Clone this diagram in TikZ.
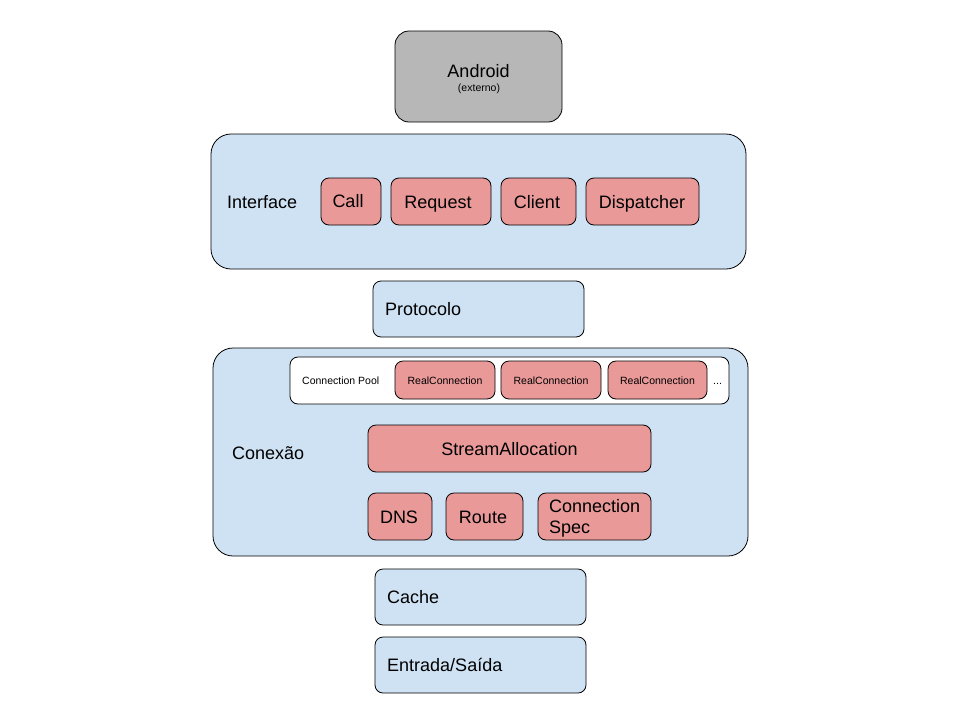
\documentclass[tikz,border=0pt]{standalone}
\usepackage{fontspec}
\setmainfont{Liberation Sans}
\definecolor{grayf}{HTML}{B7B7B7}
\definecolor{bluef}{HTML}{CFE2F3}
\definecolor{redf}{HTML}{EA9999}
\begin{document}
\begin{tikzpicture}[x=1pt,y=-1pt,
  box/.style={draw=black, line width=0.8pt, rounded corners=#1},
  box/.default=8pt,
  big/.style={font=\fontsize{18}{21}\selectfont, text height=14pt, text depth=1pt, inner sep=0pt},
  small/.style={font=\fontsize{10.5}{12}\selectfont, text height=9pt, text depth=1.5pt, inner sep=0pt}]
\useasboundingbox (0,0) rectangle (960,720);
% Android
\draw[box=14pt, fill=grayf] (395,31) rectangle (562,122);
\node[big] (android) at (478.5,71) {Android};
\node[small] (ext) at (479,88) {(externo)};
% Interface
\draw[box=20pt, fill=bluef] (211,134) rectangle (746,269);
\node[big, anchor=west] (iface) at (227,202) {Interface};
\draw[box, fill=redf] (321,178) rectangle (381,225);
\node[big] (call) at (348,201) {Call};
\draw[box, fill=redf] (391,178) rectangle (491,225);
\node[big] (req) at (438,202) {Request};
\draw[box, fill=redf] (501,178) rectangle (576,225);
\node[big] (client) at (537,202) {Client};
\draw[box, fill=redf] (586,178) rectangle (699,225);
\node[big] (disp) at (642,202) {Dispatcher};
% Protocolo
\draw[box, fill=bluef] (373,281) rectangle (584,337);
\node[big, anchor=west] (proto) at (385,309) {Protocolo};
% Conexao
\draw[box=20pt, fill=bluef] (213,348) rectangle (748,556);
\draw[box, fill=white] (290,357) rectangle (729,404);
\node[small, anchor=west] (pool) at (302,381) {Connection Pool};
\draw[box, fill=redf] (395,361) rectangle (495,399);
\node[small] (rc1) at (445,381) {RealConnection};
\draw[box, fill=redf] (501,361) rectangle (601,399);
\node[small] (rc2) at (551,381) {RealConnection};
\draw[box, fill=redf] (608,361) rectangle (707,399);
\node[small] (rc3) at (657.5,381) {RealConnection};
\node[small, anchor=west] (dots) at (713,381) {...};
\node[big, anchor=west] (conex) at (232,453) {Conexão};
\draw[box, fill=redf] (368,425) rectangle (651,472);
\node[big] (stream) at (509.5,449) {StreamAllocation};
\draw[box, fill=redf] (368,493) rectangle (432,540);
\node[big] (dns) at (399,517) {DNS};
\draw[box, fill=redf] (446,493) rectangle (523,540);
\node[big] (route) at (483,517) {Route};
\draw[box, fill=redf] (538,493) rectangle (651,540);
\node[anchor=west, align=left, inner sep=0pt, font=\fontsize{18}{21}\selectfont] (spec) at (549,518.5) {Connection\\Spec};
% Cache
\draw[box, fill=bluef] (375,569) rectangle (586,625);
\node[big, anchor=west] (cache) at (387,597) {Cache};
\draw[box, fill=bluef] (375,637) rectangle (586,693);
\node[big, anchor=west] (io) at (387,665) {Entrada/Saída};
\end{tikzpicture}
\end{document}
